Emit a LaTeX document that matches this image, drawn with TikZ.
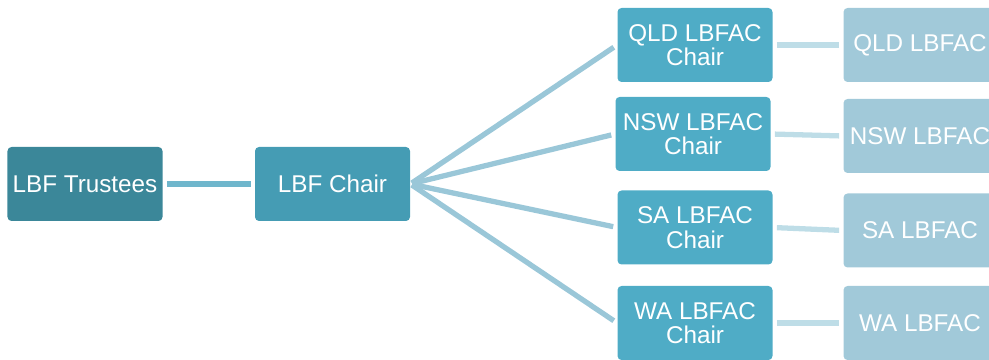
\documentclass[tikz,border=0pt]{standalone}
\usepackage{fontspec}
\setmainfont{Liberation Sans}
\definecolor{trusteeblue}{RGB}{59,135,153}
\definecolor{chairblue}{RGB}{69,156,180}
\definecolor{statechair}{RGB}{79,172,198}
\definecolor{statebox}{RGB}{161,201,217}
\definecolor{linkone}{RGB}{111,182,204}
\definecolor{linktwo}{RGB}{154,199,216}
\definecolor{linkthree}{RGB}{190,221,231}

\begin{document}
\begin{tikzpicture}[
  orgbox/.style={rectangle,rounded corners=2.3pt,minimum width=3.1cm,minimum height=1.48cm,
    text=white,align=center,font=\fontsize{13.8}{14}\selectfont,inner sep=1pt},
  link/.style={line width=3pt,shorten <=2.3pt,shorten >=2.3pt}]
  \useasboundingbox (0,0) rectangle (19.78,-7.2);
  % left hand side
  \node[orgbox,fill=trusteeblue] (trustees) at (1.70,-3.68) {LBF Trustees};
  \node[orgbox,fill=chairblue] (chair) at (6.65,-3.68) {LBF Chair};
  % state chairs
  \node[orgbox,fill=statechair] (qldchair) at (13.90,-0.90) {QLD LBFAC\\Chair};
  \node[orgbox,fill=statechair] (nswchair) at (13.86,-2.68) {NSW LBFAC\\Chair};
  \node[orgbox,fill=statechair] (sachair) at (13.90,-4.55) {SA LBFAC\\Chair};
  \node[orgbox,fill=statechair] (wachair) at (13.90,-6.46) {WA LBFAC\\Chair};
  % state committees
  \node[orgbox,fill=statebox,minimum width=3.06cm] (qld) at (18.40,-0.90) {QLD LBFAC};
  \node[orgbox,fill=statebox,minimum width=3.06cm] (nsw) at (18.40,-2.72) {NSW LBFAC};
  \node[orgbox,fill=statebox,minimum width=3.06cm] (sa) at (18.40,-4.61) {SA LBFAC};
  \node[orgbox,fill=statebox,minimum width=3.06cm] (wa) at (18.40,-6.46) {WA LBFAC};
  \draw[link,linkone] (trustees) -- (chair);
  \foreach \s in {qld,nsw,sa,wa}{
    \draw[link,linktwo,shorten <=1pt] (chair.east) -- (\s chair.west);
    \draw[link,linkthree] (\s chair.east) -- (\s.west);
  }
\end{tikzpicture}
\end{document}
